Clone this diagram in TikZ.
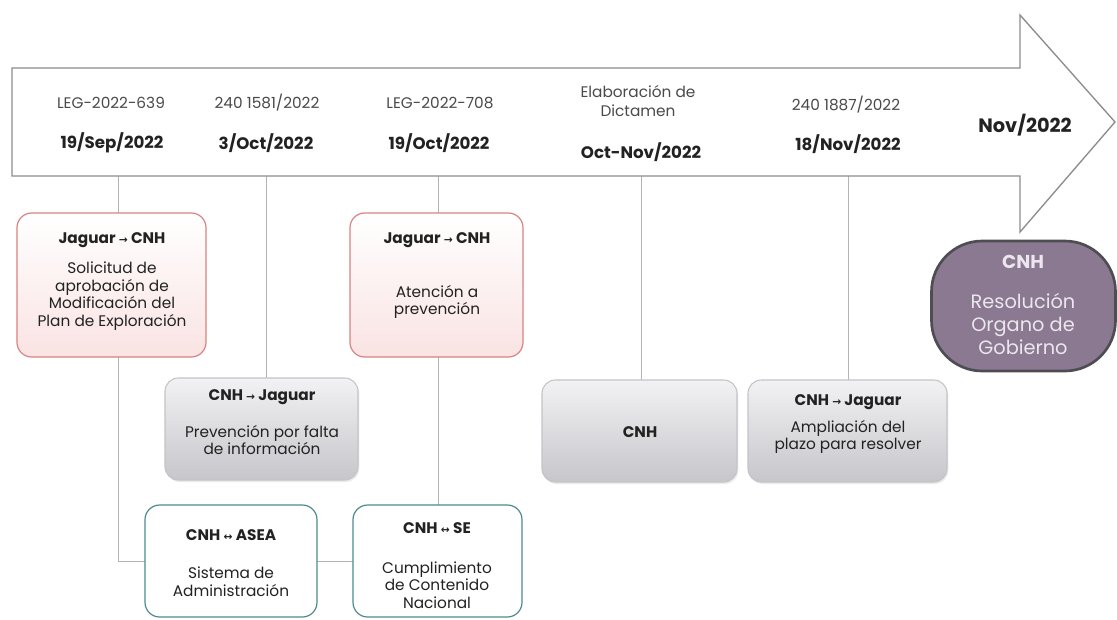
\documentclass[tikz,border=0pt]{standalone}
\usepackage{fontspec}
\setmainfont{Poppins}
\newfontfamily\symf{DejaVu Sans}
\usetikzlibrary{shadows}
\definecolor{txt}{HTML}{222222}
\definecolor{lighttxt}{HTML}{4A4A4A}
\definecolor{arrowgray}{HTML}{8C8C8C}
\definecolor{linegray}{HTML}{B4B4B4}
\definecolor{pinkborder}{HTML}{D98282}
\definecolor{pinkfill}{HTML}{FAE3E3}
\definecolor{graytop}{HTML}{F2F2F4}
\definecolor{graybot}{HTML}{C6C6CB}
\definecolor{grayborder}{HTML}{C4C4C8}
\definecolor{tealborder}{HTML}{4E8A8C}
\definecolor{purplefill}{HTML}{8A7990}
\definecolor{purpleborder}{HTML}{4E4E52}
\definecolor{purpletxt}{HTML}{ECE6EE}
\pgfdeclarelayer{back}
\pgfdeclarelayer{bg}
\pgfsetlayers{back,bg,main}
\newcommand{\rarr}{{\symf\footnotesize →}}
\newcommand{\lrarr}{{\symf\footnotesize ↔}}
\begin{document}
\begin{tikzpicture}[x=0.75pt,y=-0.75pt,
  every node/.style={inner sep=0pt,outer sep=0pt,text=txt,font=\fontsize{9}{12.5}\selectfont,align=center},
  idtext/.style={text=lighttxt,font=\fontsize{11.5}{14}\selectfont},
  datetext/.style={font=\bfseries\fontsize{12.5}{14}\selectfont},
  boxtitle/.style={font=\bfseries\fontsize{11.5}{14}\selectfont},
  boxbody/.style={font=\fontsize{11.5}{13.2}\selectfont},
  pinkbox/.style={draw=pinkborder,line width=0.9pt,rounded corners=11pt,top color=white,bottom color=pinkfill},
  graybox/.style={draw=grayborder,line width=0.8pt,rounded corners=10pt,top color=graytop,bottom color=graybot,drop shadow={opacity=0.15,shadow xshift=1pt,shadow yshift=-1.5pt}},
  tealbox/.style={draw=tealborder,line width=0.9pt,rounded corners=11pt,fill=white},
  purplebox/.style={draw=purpleborder,line width=2pt,rounded corners=38pt,fill=purplefill},
  conn/.style={draw=linegray,line width=0.7pt},
  timeline/.style={draw=arrowgray,line width=1pt,fill=white}
]
\useasboundingbox (0,0) rectangle (1117,619);
\begin{pgfonlayer}{back}
\fill[white] (0,0) rectangle (1117,619);
\end{pgfonlayer}

% timeline arrow
\draw[timeline] (12,68) -- (1020,68) -- (1020,15) -- (1115,122) -- (1020,232) -- (1020,176) -- (12,176) -- cycle;

% connection points on the arrow
\coordinate (t1) at (118,176);
\coordinate (t2) at (266,176);
\coordinate (t3) at (438,176);
\coordinate (t4) at (641,176);
\coordinate (t5) at (848,176);

% timeline texts
\node[idtext] (id1) at (111,103) {LEG-2022-639};
\node[datetext] (d1) at (112,143) {19/Sep/2022};
\node[idtext] (id2) at (267,103) {240 1581/2022};
\node[datetext] (d2) at (266,143) {3/Oct/2022};
\node[idtext] (id3) at (440,103) {LEG-2022-708};
\node[datetext] (d3) at (439,143) {19/Oct/2022};
\node[idtext,font=\fontsize{11.5}{14.5}\selectfont] (id4) at (638,101) {Elaboración de\\Dictamen};
\node[datetext] (d4) at (641,152) {Oct-Nov/2022};
\node[idtext] (id5) at (846,105) {240 1887/2022};
\node[datetext] (d5) at (848,144) {18/Nov/2022};
\node[datetext,font=\bfseries\fontsize{14.5}{16}\selectfont] (d6) at (1025,125) {Nov/2022};

% boxes
\node[pinkbox,minimum width=141.75pt,minimum height=108pt] (p1) at (111.5,285) {};
\node[boxtitle] (p1t) at (112,240) {Jaguar \rarr{} CNH};
\node[boxbody] (p1b) at (112,296) {Solicitud de\\aprobación de\\Modificación del\\Plan de Exploración};

\node[pinkbox,minimum width=129.75pt,minimum height=108pt] (p2) at (436.5,285) {};
\node[boxtitle] (p2t) at (437,240) {Jaguar \rarr{} CNH};
\node[boxbody] (p2b) at (437,302) {Atención a\\prevención};

\node[graybox,minimum width=144.75pt,minimum height=76.5pt] (g1) at (261.5,429) {};
\node[boxtitle] (g1t) at (262,397) {CNH \rarr{} Jaguar};
\node[boxbody] (g1b) at (262,440) {Prevención por falta\\de información};

\node[tealbox,minimum width=129pt,minimum height=84pt] (a1) at (231,561) {};
\node[boxtitle] (a1t) at (231,535) {CNH \lrarr{} ASEA};
\node[boxbody] (a1b) at (231,582) {Sistema de\\Administración};

\node[tealbox,minimum width=126.75pt,minimum height=84pt] (se) at (437.5,561) {};
\node[boxtitle] (set) at (437,528) {CNH \lrarr{} SE};
\node[boxbody] (seb) at (437,585) {Cumplimiento\\de Contenido\\Nacional};

\node[graybox,minimum width=146.25pt,minimum height=76.5pt] (g2) at (639.5,431) {};
\node[boxtitle] (g2t) at (640,432) {CNH};

\node[graybox,minimum width=149.25pt,minimum height=76.5pt] (g3) at (847.5,431) {};
\node[boxtitle] (g3t) at (848,402) {CNH \rarr{} Jaguar};
\node[boxbody] (g3b) at (848,437) {Ampliación del\\plazo para resolver};

\node[purplebox,minimum width=138pt,minimum height=97.5pt] (r) at (1023.5,306) {};
\node[text=purpletxt,font=\bfseries\fontsize{14}{16}\selectfont] (rt) at (1023,262) {CNH};
\node[text=purpletxt,font=\fontsize{14.5}{17.5}\selectfont] (rb) at (1023,324) {Resolución\\Organo de\\Gobierno};

% connectors
\begin{pgfonlayer}{bg}
\draw[conn] (t1) |- (se.west);
\draw[conn] (t2) -- (t2 |- g1.north);
\draw[conn] (t3) -- (t3 |- se.north);
\draw[conn] (t4) -- (t4 |- g2.north);
\draw[conn] (t5) -- (t5 |- g3.north);
\end{pgfonlayer}
\end{tikzpicture}
\end{document}
